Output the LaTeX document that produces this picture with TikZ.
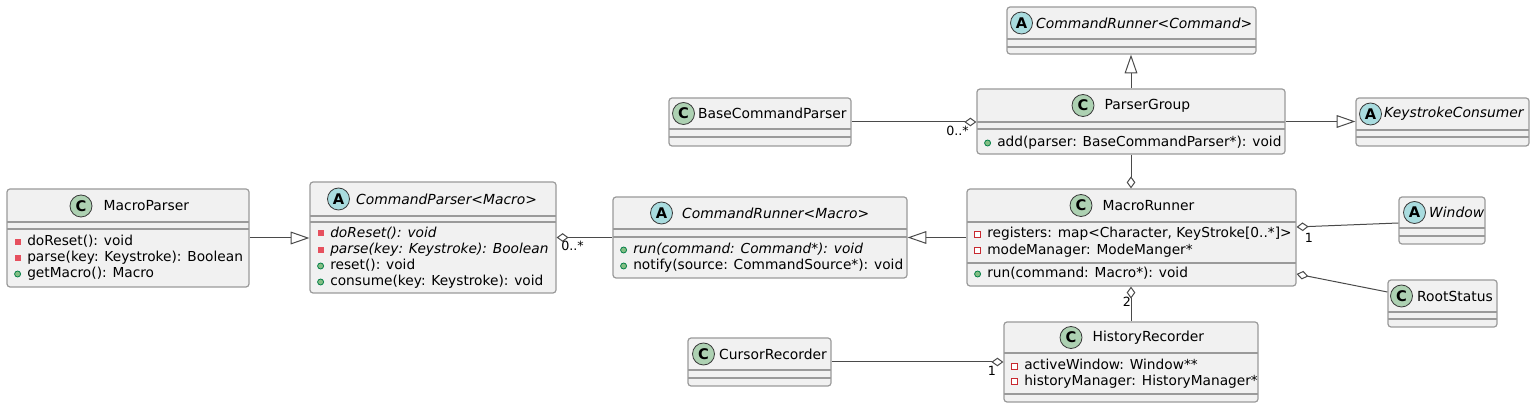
\documentclass[tikz,border=0pt]{standalone}
\usepackage{fontspec}
\setmainfont{DejaVu Sans}
\usetikzlibrary{arrows.meta,fit,positioning}

\definecolor{boxfill}{HTML}{F1F1F1}
\definecolor{boxline}{HTML}{9A9A9A}
\definecolor{edgeline}{HTML}{4A4A4A}
\definecolor{icondraw}{HTML}{3A3A3A}
\definecolor{cfill}{HTML}{ADD1B2}
\definecolor{afill}{HTML}{A9DCDF}
\definecolor{privred}{HTML}{C82930}
\definecolor{privfill}{HTML}{E6505E}
\definecolor{pubgreen}{HTML}{038048}
\definecolor{pubfill}{HTML}{84BE84}

\begin{document}
\begin{tikzpicture}[
        x=0.75pt, y=-0.75pt,
        classbox/.style = {draw=boxline, fill=boxfill, line width=0.9pt, rounded corners=2.25pt, inner sep=0pt},
        sepline/.style = {draw=boxline, line width=0.9pt},
        icon/.style = {circle, draw=icondraw, line width=0.6pt, inner sep=0pt, minimum size=16.5pt, font=\fontsize{11}{11}\selectfont\bfseries},
        iconC/.style = {icon, fill=cfill},
        iconA/.style = {icon, fill=afill},
        cname/.style = {inner sep=0pt, font=\fontsize{10.4}{12}\selectfont},
        aname/.style = {inner sep=0pt, font=\fontsize{10.4}{12}\selectfont\itshape},
        member/.style = {inner sep=0pt, anchor=west, text height=7.5pt, text depth=2pt, font=\fontsize{10.3}{12}\selectfont},
        vis/.style = {rectangle, inner sep=0pt, minimum size=4.5pt, line width=0.6pt, xshift=-4.5pt},
        privfield/.style = {member, label={[vis, draw=privred, fill=white]west:{}}},
        privmeth/.style = {member, label={[vis, fill=privfill]west:{}}},
        pubmeth/.style = {member, label={[vis, circle, draw=pubgreen, fill=pubfill]west:{}}},
        mult/.style = {inner sep=0pt, font=\fontsize{9.5}{10}\selectfont},
        inherit/.style = {draw=edgeline, line width=0.75pt, -{Triangle[open, fill=white, length=14pt, width=9.5pt]}},
        aggr/.style = {draw=edgeline, line width=0.75pt, -{Diamond[open, fill=white, length=9pt, width=6.5pt]}}
    ]
 \useasboundingbox (0,0) rectangle (1536,409);

 % MacroParser
 \node[classbox, fit={(7,189) (249,287)}] (mparser) {};
 \draw[sepline] (7,222) -- (249,222) (7,229) -- (249,229);
 \node[iconC] (mparser-ic) at (81,206) {C};
 \node[cname, right=8.25pt of mparser-ic] (mparser-nm) {MacroParser};
 \node[privmeth] (mparser-m1) at (27,242) {doReset(): void};
 \node[privmeth] (mparser-m2) at (27,258) {parse(key: Keystroke): Boolean};
 \node[pubmeth] (mparser-m3) at (27,274) {getMacro(): Macro};

 % CommandParser<Macro>
 \node[classbox, fit={(310,182) (556,293)}] (cparser) {};
 \draw[sepline] (310,216) -- (556,216) (310,222) -- (556,222);
 \node[iconA] (cparser-ic) at (338.5,199) {A};
 \node[aname, right=4.5pt of cparser-ic] (cparser-nm) {CommandParser<Macro>};
 \node[privmeth, font=\fontsize{10.3}{12}\selectfont\itshape] (cparser-m1) at (330,233.5) {doReset(): void};
 \node[privmeth, font=\fontsize{10.3}{12}\selectfont\itshape] (cparser-m2) at (330,249.8) {parse(key: Keystroke): Boolean};
 \node[pubmeth] (cparser-m3) at (330,266) {reset(): void};
 \node[pubmeth] (cparser-m4) at (330,282) {consume(key: Keystroke): void};

 % CommandRunner<Macro>
 \node[classbox, fit={(613,197) (907,278)}] (crunm) {};
 \draw[sepline] (613,229) -- (907,229) (613,237) -- (907,237);
 \node[iconA] (crunm-ic) at (661.5,213) {A};
 \node[aname, right=6.75pt of crunm-ic] (crunm-nm) {CommandRunner<Macro>};
 \node[pubmeth, font=\fontsize{10.3}{12}\selectfont\itshape] (crunm-m1) at (633,250) {run(command: Command*): void};
 \node[pubmeth] (crunm-m2) at (633,266) {notify(source: CommandSource*): void};

 % MacroRunner
 \node[classbox, fit={(967,189) (1296,286)}] (mrunner) {};
 \draw[sepline] (967,222) -- (1296,222) (967,263) -- (1296,263);
 \node[iconC] (mrunner-ic) at (1081,205.5) {C};
 \node[cname, right=7.5pt of mrunner-ic] (mrunner-nm) {MacroRunner};
 \node[privfield] (mrunner-f1) at (987,234) {registers: map<Character, KeyStroke[0..*]>};
 \node[privfield] (mrunner-f2) at (987,250.5) {modeManager: ModeManger*};
 \node[pubmeth] (mrunner-m1) at (987,274) {run(command: Macro*): void};

 % ParserGroup
 \node[classbox, fit={(977,89) (1285,154)}] (pgroup) {};
 \draw[sepline] (977,122) -- (1285,122) (977,129) -- (1285,129);
 \node[iconC] (pgroup-ic) at (1083,105.5) {C};
 \node[cname, right=7.5pt of pgroup-ic] (pgroup-nm) {ParserGroup};
 \node[pubmeth] (pgroup-m1) at (997,143) {add(parser: BaseCommandParser*): void};

 % CommandRunner<Command>
 \node[classbox, fit={(1007,7) (1256,54)}] (crcmd) {};
 \draw[sepline] (1007,39) -- (1256,39) (1007,47) -- (1256,47);
 \node[iconA] (crcmd-ic) at (1021.5,23) {A};
 \node[aname, right=2.25pt of crcmd-ic] (crcmd-nm) {CommandRunner<Command>};

 % BaseCommandParser
 \node[classbox, fit={(669,98) (851,146)}] (bcparser) {};
 \draw[sepline] (669,129) -- (851,129) (669,137) -- (851,137);
 \node[iconC] (bcparser-ic) at (683.5,113.5) {C};
 \node[cname, right=2.25pt of bcparser-ic] (bcparser-nm) {BaseCommandParser};

 % KeystrokeConsumer
 \node[classbox, fit={(1356,98) (1529,146)}] (kconsumer) {};
 \draw[sepline] (1356,130) -- (1529,130) (1356,137) -- (1529,137);
 \node[iconA] (kconsumer-ic) at (1370.5,114) {A};
 \node[aname, right=1.5pt of kconsumer-ic] (kconsumer-nm) {KeystrokeConsumer};

 % Window
 \node[classbox, fit={(1399,197) (1485,244)}] (window) {};
 \draw[sepline] (1399,228) -- (1485,228) (1399,236) -- (1485,236);
 \node[iconA] (window-ic) at (1414.5,212.5) {A};
 \node[aname, right=2.25pt of window-ic] (window-nm) {Window};

 % RootStatus
 \node[classbox, fit={(1388,280) (1497,327)}] (rstatus) {};
 \draw[sepline] (1388,312) -- (1497,312) (1388,319) -- (1497,319);
 \node[iconC] (rstatus-ic) at (1401.5,296) {C};
 \node[cname, right=3pt of rstatus-ic] (rstatus-nm) {RootStatus};

 % HistoryRecorder
 \node[classbox, fit={(1004,322) (1258,402)}] (hrecorder) {};
 \draw[sepline] (1004,353) -- (1258,353) (1004,394) -- (1258,394);
 \node[iconC] (hrecorder-ic) at (1071,337.5) {C};
 \node[cname, right=7.5pt of hrecorder-ic] (hrecorder-nm) {HistoryRecorder};
 \node[privfield] (hrecorder-f1) at (1024,366) {activeWindow: Window**};
 \node[privfield] (hrecorder-f2) at (1024,381.5) {historyManager: HistoryManager*};

 % CursorRecorder
 \node[classbox, fit={(688,338) (831,386)}] (crecorder) {};
 \draw[sepline] (688,370) -- (831,370) (688,378) -- (831,378);
 \node[iconC] (crecorder-ic) at (703.5,354) {C};
 \node[cname, right=3pt of crecorder-ic] (crecorder-nm) {CursorRecorder};

 % relations
 \draw[inherit] (mparser.east) -- (mparser.east -| cparser.west);
 \draw[aggr] (crunm.west) -- (crunm.west -| cparser.east);
 \draw[inherit] (mrunner.west) -- (mrunner.west -| crunm.east);
 \draw[aggr] (bcparser.east) -- (bcparser.east -| pgroup.west);
 \draw[inherit] (pgroup.north) -- (pgroup.north |- crcmd.south);
 \draw[inherit] (pgroup.east) -- (pgroup.east -| kconsumer.west);
 \draw[aggr] (pgroup.south) -- (pgroup.south |- mrunner.north);
 \draw[aggr] (window.west |- 0,223) -- (mrunner.east |- 0,227);
 \draw[aggr] (rstatus.west |- 0,292) -- (mrunner.east |- 0,274);
 \draw[aggr] (hrecorder.north) -- (hrecorder.north |- mrunner.south);
 \draw[aggr] (crecorder.east) -- (crecorder.east -| hrecorder.west);

 \node[mult] (cparser-mult) at (572.5,246) {0..*};
 \node[mult] (pgroup-mult) at (957.5,131) {0..*};
 \node[mult] (window-mult) at (1309,237.5) {1};
 \node[mult] (hrecorder-mult) at (1127,302) {2};
 \node[mult] (crecorder-mult) at (992,370.5) {1};
\end{tikzpicture}
\end{document}
